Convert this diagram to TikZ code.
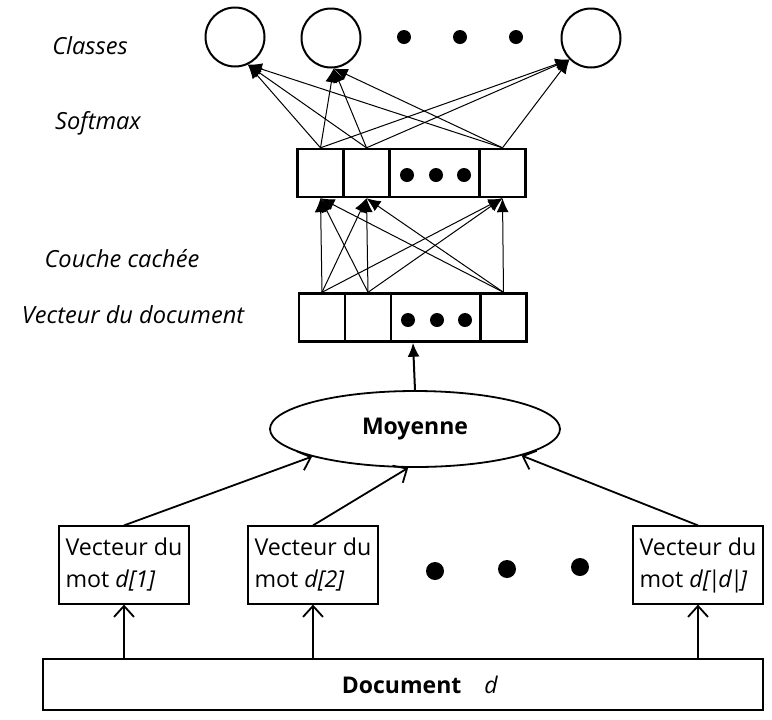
\documentclass[tikz,border=0pt]{standalone}
\usepackage{fontspec}
\setmainfont{Open Sans}
\usepackage{tikz}
\usetikzlibrary{arrows,arrows.meta,shapes,positioning}
\tikzstyle{layer} = [font=\fontsize{11.8}{14}\selectfont\itshape]
\tikzstyle{classe} = [circle,draw,line width=1pt,minimum size=29.5pt,inner sep=0pt]
\tikzstyle{cell} = [rectangle,draw,line width=1.2pt,minimum width=23pt,minimum height=24pt,inner sep=0pt]
\tikzstyle{frame} = [rectangle,draw,line width=1.2pt,minimum width=114pt,minimum height=24pt,inner sep=0pt]
\tikzstyle{mot} = [rectangle,draw,line width=0.6pt,inner sep=3pt,minimum width=65pt,minimum height=39pt,align=left,font=\fontsize{11.6}{16}\selectfont]
\tikzstyle{conn} = [line width=0.5pt,-{Latex[length=7pt,width=6pt]}]
\tikzstyle{openarrow} = [line width=0.9pt,-{Straight Barb[length=5.5pt,width=10pt]}]

\begin{document}
\begin{tikzpicture}[x=0.5pt,y=-0.5pt]
\useasboundingbox (0,0) rectangle (772,719);

% Layer names
\node[layer] (lclass) at (90,46) {Classes};
\node[layer] (lsoft) at (98,123) {Softmax};
\node[layer] (lhid) at (122,259) {Couche cachée};
\node[layer] (lvec) at (133,315) {Vecteur du document};

% Classes
\node[classe] (c1) at (235,37) {};
\node[classe] (c2) at (331,38) {};
\node[classe] (c3) at (591,38) {};
\foreach \x in {404,460,516} \fill (\x,37) circle (7);

% Hidden layer
\node[frame] (hl) at (412,173) {};
\node[cell] (h1) at (320.5,173) {};
\node[cell] (h2) at (366.5,173) {};
\node[cell] (h3) at (502.5,173) {};
\foreach \x in {407,436,464} \fill (\x,175) circle (7);

% Document vector
\node[frame] (vl) at (413,317.5) {};
\node[cell] (v1) at (322,317.5) {};
\node[cell] (v2) at (368,317.5) {};
\node[cell] (v3) at (503.5,317.5) {};
\foreach \x in {408,437,465} \fill (\x,320) circle (7);

% Fully connected
\foreach \a in {v1,v2,v3}
  \foreach \b in {h1,h2,h3}
    \draw[conn] (\a.north) -- (\b.south);
\foreach \b in {h1,h2,h3} {
  \draw[conn] (\b.north) -- (c1.-65);
  \draw[conn] (\b.north) -- (c2.-85);
  \draw[conn] (\b.north) -- (c3.-135);
}

% Average
\node[ellipse,draw,line width=0.9pt,minimum width=145pt,minimum height=38pt,font=\fontsize{11.5}{13.5}\selectfont\bfseries] (moy) at (415,429) {Moyenne};
\draw[line width=1pt,-{Latex[length=7pt,width=6pt]}] (moy.north) -- (vl.south);

% Word vectors
\node[mot] (m1) at (124,565) {Vecteur du\\mot \textit{d[1]}};
\node[mot] (m2) at (313,565) {Vecteur du\\mot \textit{d[2]}};
\node[mot] (m3) at (698,565) {Vecteur du\\mot \textit{d[\kern-1pt|\kern-1pt d\kern-1pt|\kern-1pt]}};
\foreach \x/\y in {435/571,507/569,580/567} \fill (\x,\y) circle (9);

\draw[openarrow] (m1.north) -- (moy.195);
\draw[openarrow] (m2.north) -- (moy.260);
\draw[openarrow] (m3.north) -- (moy.-14);

% Document
\node[rectangle,draw,line width=0.8pt,minimum width=360pt,minimum height=25.5pt,font=\fontsize{11.5}{13.5}\selectfont] (doc) at (403,684.5) {\hspace*{17pt}\textbf{Document}\quad\textit{d}};
\foreach \m in {m1,m2,m3}
  \draw[openarrow] (doc.north -| \m.south) -- (\m.south);
\end{tikzpicture}
\end{document}
